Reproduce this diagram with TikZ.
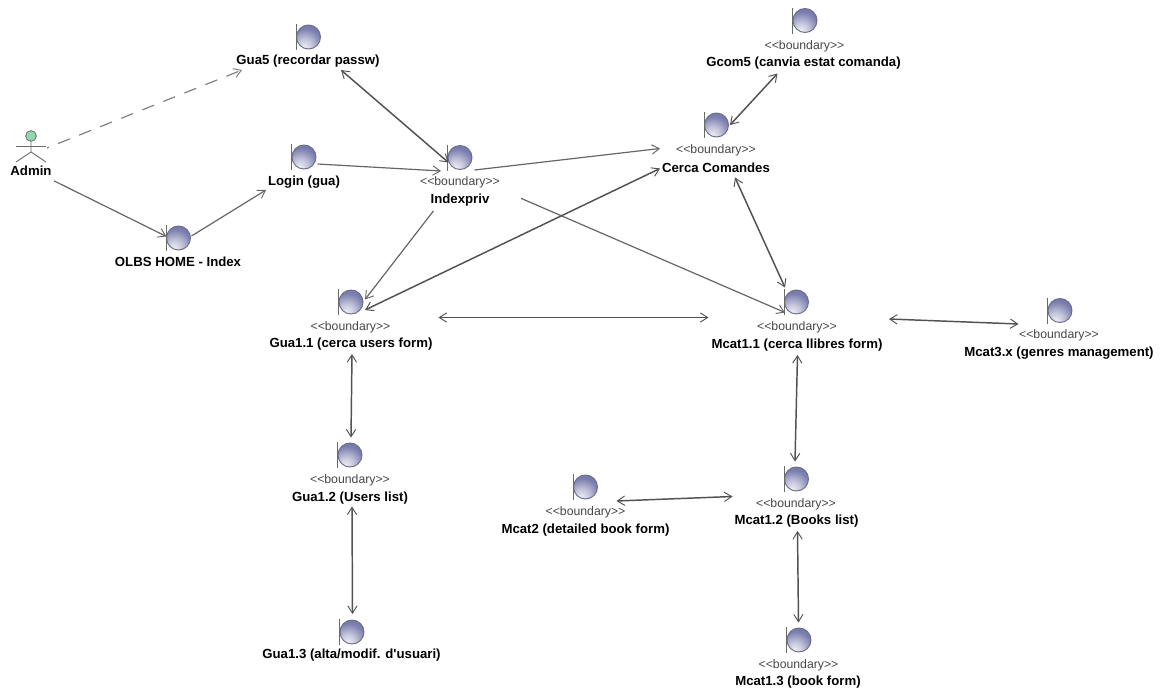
\documentclass[tikz,border=0pt]{standalone}
\usepackage{fontspec}
\usetikzlibrary{arrows.meta}
\newfontfamily\dfont{Liberation Sans}
\definecolor{ballout}{HTML}{6A6C88}
\definecolor{balldark}{HTML}{7A7EAE}
\definecolor{linegrey}{HTML}{666666}
\definecolor{actorgrey}{HTML}{6A6A6A}
\definecolor{actorgreen}{HTML}{90D8AE}
\pgfdeclareradialshading{bdball}{\pgfpoint{-10bp}{-24bp}}{%
  color(0bp)=(white!92!balldark);
  color(16bp)=(white!55!balldark);
  color(34bp)=(balldark);
  color(50bp)=(balldark!92!black);
  color(100bp)=(balldark!92!black)}
\tikzset{
  ballnode/.style={circle,draw=ballout,line width=0.7pt,shading=bdball,minimum size=18pt,inner sep=0pt},
  barline/.style={draw=actorgrey,line width=0.6pt},
  stereo/.style={font=\dfont\fontsize{9.2pt}{11pt}\selectfont,text=black!72,inner sep=0pt,yshift=-1.5pt},
  title/.style={font=\dfont\bfseries\fontsize{9.9pt}{11pt}\selectfont,text=black,inner sep=0pt,yshift=-1pt},
  oneway/.style={draw=linegrey,line width=0.9pt,-{Straight Barb[length=5.5pt,width=7pt,line width=0.7pt]}},
  twoway/.style={draw=linegrey!80!black,line width=1.1pt,{Straight Barb[length=5.5pt,width=7pt,line width=0.7pt]}-{Straight Barb[length=5.5pt,width=7pt,line width=0.7pt]}},
  dashway/.style={draw=linegrey!85,line width=0.9pt,dash pattern=on 9.5pt off 7.5pt,dash phase=8pt,-{Straight Barb[length=5.5pt,width=7pt,line width=0.7pt]}},
  actorline/.style={draw=actorgrey,line width=0.7pt}
}
% \bnd{name}{x}{y}: boundary icon
\newcommand{\bnd}[3]{%
  \node[ballnode] (#1) at (#2,#3) {};
  \draw[barline] ([shift={(-12.5,-13)}]#1.center) -- ([shift={(-12.5,13)}]#1.center);
}
% \conn{style}{from}{dx,dy}{to}{dx,dy}
\newcommand{\conn}[5]{%
  \draw[#1] ([shift={(#3)}]#2.center) -- ([shift={(#5)}]#4.center);
}
\begin{document}
\begin{tikzpicture}[x=0.75pt,y=-0.75pt]
\useasboundingbox (0,0) rectangle (1161,689);
\fill[white] (0,0) rectangle (1161,689);

% actor
\node[circle,draw=actorgrey,fill=actorgreen,line width=0.6pt,minimum size=8pt,inner sep=0pt] (admin) at (31,136) {};
\draw[actorline] (admin.south) -- ([shift={(0,16)}]admin.center) -- ([shift={(-15,26)}]admin.center);
\draw[actorline] ([shift={(0,16)}]admin.center) -- ([shift={(15,26)}]admin.center);
\draw[actorline] ([shift={(-15,10)}]admin.center) -- ([shift={(15,10)}]admin.center);
\node[title] (adminlabel) at (31,169) {Admin};

% boundaries
\bnd{gua5}{308.5}{37}
\node[title] (gua5l) at (308,60) {Gua5 (recordar passw)};

\bnd{login}{304}{157}
\node[title] (loginl) at (304,180.5) {Login (gua)};

\bnd{index}{460}{157.5}
\node[stereo] (indexs) at (460,180.5) {<<boundary>>};
\node[title] (indexl) at (460,199) {Indexpriv};

\bnd{olbs}{178.5}{238}
\node[title] (olbsl) at (178,260) {OLBS HOME - Index};

\bnd{gcom}{805}{20.5}
\node[stereo] (gcoms) at (804.5,44) {<<boundary>>};
\node[title] (gcoml) at (803.5,62) {Gcom5 (canvia estat comanda)};

\bnd{cerca}{716.5}{125}
\node[stereo] (cercas) at (716,148.5) {<<boundary>>};
\node[title] (cercal) at (716,166.5) {Cerca Comandes};

\bnd{gua11}{351}{302}
\node[stereo] (gua11s) at (350.5,325) {<<boundary>>};
\node[title] (gua11l) at (351,343) {Gua1.1 (cerca users form)};

\bnd{mcat11}{796.5}{302}
\node[stereo] (mcat11s) at (797,325) {<<boundary>>};
\node[title] (mcat11l) at (797,344) {Mcat1.1 (cerca llibres form)};

\bnd{mcat3}{1060}{310.5}
\node[stereo] (mcat3s) at (1059,333) {<<boundary>>};
\node[title] (mcat3l) at (1059,351.5) {Mcat3.x (genres management)};

\bnd{gua12}{350}{455}
\node[stereo] (gua12s) at (350,478) {<<boundary>>};
\node[title] (gua12l) at (350,496.5) {Gua1.2 (Users list)};

\bnd{mcat2}{585.5}{487}
\node[stereo] (mcat2s) at (585.5,510) {<<boundary>>};
\node[title] (mcat2l) at (585.5,528.5) {Mcat2 (detailed book form)};

\bnd{mcat12}{796.5}{479}
\node[stereo] (mcat12s) at (796,502) {<<boundary>>};
\node[title] (mcat12l) at (796.5,520) {Mcat1.2 (Books list)};

\bnd{gua13}{352}{632}
\node[title] (gua13l) at (351.5,654) {Gua1.3 (alta/modif. d'usuari)};

\bnd{mcat13}{799}{640}
\node[stereo] (mcat13s) at (798.5,663) {<<boundary>>};
\node[title] (mcat13l) at (798,680.5) {Mcat1.3 (book form)};

% connectors
\conn{dashway}{admin}{16,12}{gua5}{-66.5,33}
\conn{oneway}{adminlabel}{23,10.5}{olbs}{-12,-1.5}
\conn{oneway}{olbs}{13,-2}{login}{-38,33}
\conn{oneway}{login}{13.5,7}{index}{-19,13.5}
\conn{twoway}{gua5}{32.5,33}{index}{-11.5,5}
\conn{oneway}{index}{14.5,12.5}{cerca}{-56.5,23.5}
\conn{oneway}{indexl}{-26.5,10.5}{gua11}{14,-2.5}
\conn{oneway}{indexl}{61,-2}{mcat11}{-11.5,10.5}
\conn{twoway}{cerca}{-56.5,43.5}{gua11}{14,8}
\conn{twoway}{gcom}{-27.5,53}{cerca}{13.5,0}
\conn{twoway}{cerca}{18.5,52.5}{mcat11}{-11.5,-14.5}
\conn{twoway}{gua11}{87.5,15.5}{mcat11}{-88,15.5}
\conn{twoway}{mcat11}{92.5,17}{mcat3}{-41.5,13.5}
\conn{twoway}{mcat11}{1,53}{mcat12}{-1.5,-17.5}
\conn{twoway}{mcat2}{31,14}{mcat12}{-64,17.5}
\conn{twoway}{mcat12}{1,52}{mcat13}{-0.5,-17.5}
\conn{twoway}{gua11}{1,52}{gua12}{1,-17.5}
\conn{twoway}{gua12}{2,51.5}{gua13}{0.5,-18}
\end{tikzpicture}
\end{document}
